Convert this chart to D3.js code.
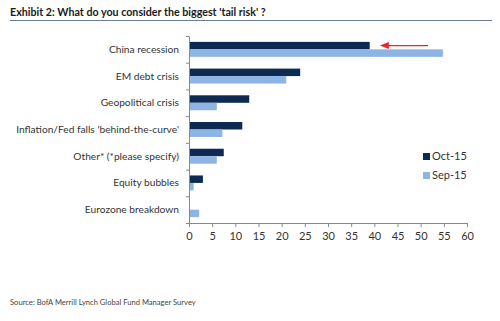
<!DOCTYPE html>
<html>
<head>
<meta charset="utf-8">
<script src="https://cdn.jsdelivr.net/npm/d3@7"></script>
<style>
  body { margin: 0; background: #fff; }
  text { font-family: Lato, "Liberation Sans", sans-serif; }
</style>
</head>
<body>
<div id="chart"></div>
<script>

// chart values
var categories = ["China recession", "EM debt crisis", "Geopolitical crisis",
  "Inflation/Fed falls 'behind-the-curve'", "Other* (*please specify)",
  "Equity bubbles", "Eurozone breakdown"];
var oct15 = [39, 24, 13, 11.5, 7.5, 3, 0];
var sep15 = [54.8, 21, 6, 7.2, 6, 1, 2.2];
var seriesNames = ["Oct-15", "Sep-15"];
var xTicks = [0, 5, 10, 15, 20, 25, 30, 35, 40, 45, 50, 55, 60];

var svgWidth = 500;
var svgHeight = 321;

var margin = { top: 36, right: 33, bottom: 98, left: 189 };
var width = svgWidth - margin.left - margin.right;
var height = svgHeight - margin.top - margin.bottom;

var colors = { "Oct-15": "#0c2a52", "Sep-15": "#8eb4e3" };

var svg = d3.select("#chart")
  .append("svg")
  .attr("width", svgWidth)
  .attr("height", svgHeight);

// title + rule underneath
svg.append("text")
  .attr("x", 10)
  .attr("y", 16)
  .style("font-size", "10.7px")
  .style("font-weight", 700)
  .style("fill", "#1a1a1a")
  .text("Exhibit 2: What do you consider the biggest 'tail risk' ?");

svg.append("line")
  .attr("x1", 10).attr("x2", 492)
  .attr("y1", 20.5).attr("y2", 20.5)
  .attr("stroke", "#6d7c96")
  .attr("stroke-width", 1);

var chartGroup = svg.append("g")
  .attr("transform", `translate(${margin.left}, ${margin.top})`);

var xScale = d3.scaleLinear()
  .domain([0, 60])
  .range([0, width]);

var yScale = d3.scaleBand()
  .domain(categories)
  .range([0, height])
  .paddingInner(0.44)
  .paddingOuter(0.22);

var inner = d3.scaleBand()
  .domain(seriesNames)
  .range([0, yScale.bandwidth()]);

var rows = categories.map((c, i) => ({ cat: c, values: [oct15[i], sep15[i]] }));

var rowGroups = chartGroup.selectAll(".row")
  .data(rows)
  .enter()
  .append("g")
  .attr("transform", d => `translate(0, ${yScale(d.cat)})`);

rowGroups.selectAll("rect")
  .data(d => d.values.map((v, j) => ({ name: seriesNames[j], value: v })))
  .enter()
  .append("rect")
  .attr("x", 0)
  .attr("y", d => inner(d.name))
  .attr("width", d => xScale(d.value))
  .attr("height", inner.bandwidth())
  .attr("fill", d => colors[d.name]);

// axes
var bottomAxis = d3.axisBottom(xScale)
  .tickValues(xTicks)
  .tickSize(4)
  .tickPadding(5);

var xAxis = chartGroup.append("g")
  .attr("transform", `translate(0, ${height})`)
  .call(bottomAxis);

var leftAxis = d3.axisLeft(
    d3.scaleLinear().domain([0, categories.length]).range([0, height]))
  .tickValues(d3.range(categories.length + 1))
  .tickSize(3)
  .tickFormat("");

var yAxis = chartGroup.append("g")
  .call(leftAxis);

[xAxis, yAxis].forEach(function(ax) {
  ax.select(".domain").attr("stroke", "#7d8ba0");
  ax.selectAll(".tick line").attr("stroke", "#7d8ba0");
});
xAxis.select(".domain").attr("d", `M0.5,0.5H${width + 0.5}`);
yAxis.select(".domain").attr("d", `M0.5,0.5V${height + 0.5}`);
xAxis.selectAll(".tick text")
  .style("font-size", "11px")
  .style("fill", "#333");

// category labels
chartGroup.selectAll(".catlabel")
  .data(categories)
  .enter()
  .append("text")
  .attr("x", -10)
  .attr("y", d => yScale(d) + yScale.bandwidth() / 2)
  .attr("dy", "0.35em")
  .attr("text-anchor", "end")
  .style("font-size", "10.2px")
  .style("fill", "#333")
  .text(d => d);

// legend
var legend = svg.append("g")
  .attr("transform", "translate(423, 153)");

seriesNames.forEach(function(name, i) {
  legend.append("rect")
    .attr("x", 0)
    .attr("y", i * 19)
    .attr("width", 7)
    .attr("height", 7)
    .attr("fill", colors[name]);
  legend.append("text")
    .attr("x", 9)
    .attr("y", i * 19 + 3.5)
    .attr("dy", "0.35em")
    .style("font-size", "11px")
    .style("fill", "#333")
    .text(name);
});

// red arrow next to the China bar
var arrowY = yScale(categories[0]) + inner("Oct-15") + inner.bandwidth() / 2;
var arrowG = chartGroup.append("g");
arrowG.append("line")
  .attr("x1", xScale(51.6)).attr("x2", xScale(42))
  .attr("y1", arrowY).attr("y2", arrowY)
  .attr("stroke", "#e8262a")
  .attr("stroke-width", 1.3);
arrowG.append("path")
  .attr("d", `M${xScale(41.2)},${arrowY} l9,-3.5 l0,7 z`)
  .attr("fill", "#e8262a");

// source
svg.append("text")
  .attr("x", 10)
  .attr("y", 305)
  .style("font-size", "7.6px")
  .style("fill", "#444")
  .text("Source: BofA Merrill Lynch Global Fund Manager Survey");

</script>
</body>
</html>
